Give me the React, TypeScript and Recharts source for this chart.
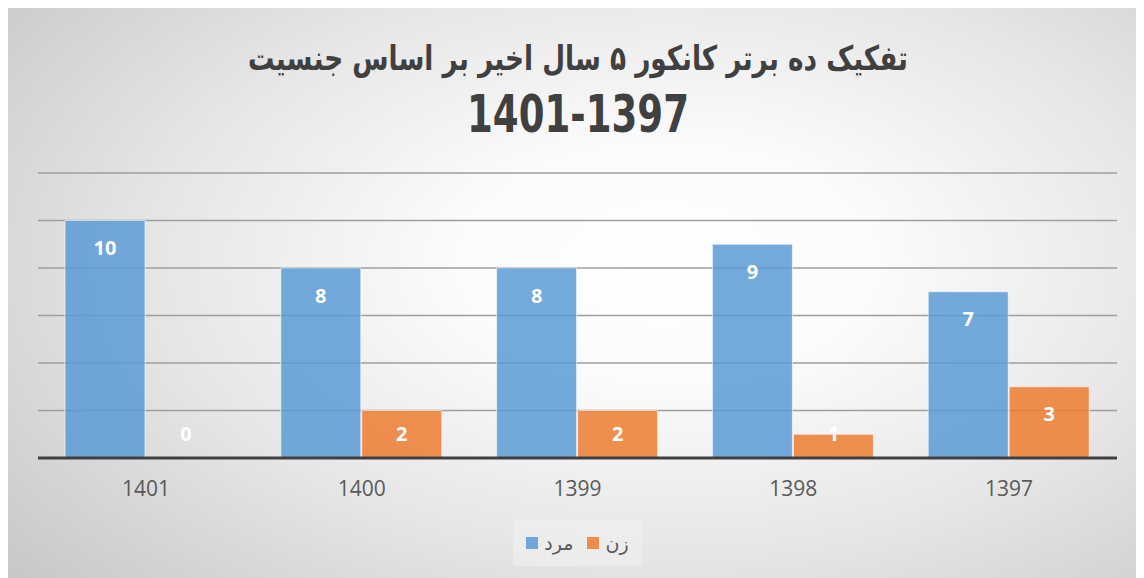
import React from 'react';
import { BarChart, Bar, XAxis, YAxis, CartesianGrid, LabelList } from 'recharts';

const categories = ['1401', '1400', '1399', '1398', '1397'];
const menValues = [10, 8, 8, 9, 7];
const womenValues = [0, 2, 2, 1, 3];
const yTicks = [0, 2, 4, 6, 8, 10, 12];
const seriesNames = ['مرد', 'زن'];
const seriesColors = ['#5b9bd5', '#ed7d31'];
const titleLine1 = 'تفکیک ده برتر کانکور ۵ سال اخیر بر اساس جنسیت';
const titleLine2 = '1401-1397';

const data = categories.map((year, i) => ({ year, men: menValues[i], women: womenValues[i] }));

const BarValueLabel = (props: any) => {
  const { x, y, width, height, value } = props;
  const nx = Number(x), ny = Number(y), nw = Number(width), nh = Number(height);
  const cy = Math.min(ny + 27, ny + nh - 25);
  return (
    <text
      x={nx + nw / 2}
      y={cy}
      textAnchor="middle"
      dominantBaseline="central"
      fill="#ffffff"
      fontWeight="bold"
      fontSize={20}
      fontFamily="'Open Sans', 'DejaVu Sans', sans-serif"
    >
      {value}
    </text>
  );
};

export default function App() {
  return (
    <div
      style={{
        position: 'relative',
        marginTop: -3,
        width: 1136,
        height: 573,
        background:
          'radial-gradient(ellipse 75% 85% at 58% 45%, #ffffff 0%, #fbfbfb 25%, #e6e6e6 60%, #c8c8c8 100%)',
      }}
    >
      <svg width={1136} height={150} style={{ position: 'absolute', left: 0, top: 0 }}>
        <text
          x={570}
          y={65}
          textAnchor="middle"
          direction="rtl"
          fontFamily="'DejaVu Sans Condensed', 'DejaVu Sans', sans-serif"
          fontWeight="bold"
          fontSize={34}
          fill="#404040"
          textLength={660}
          lengthAdjust="spacingAndGlyphs"
        >
          {titleLine1}
        </text>
        <text
          x={570}
          y={127}
          textAnchor="middle"
          fontFamily="'Liberation Sans Narrow', 'DejaVu Sans Condensed', 'Liberation Sans', sans-serif"
          fontWeight="bold"
          fontSize={52}
          fill="#404040"
          textLength={222}
          lengthAdjust="spacingAndGlyphs"
        >
          {titleLine2}
        </text>
      </svg>
      <div style={{ position: 'absolute', left: 0, top: 0 }}>
        <BarChart
          width={1136}
          height={573}
          data={data}
          margin={{ top: 168, right: 27, bottom: 80, left: 30 }}
          barGap={1}
          barSize={80}
        >
          <CartesianGrid vertical={false} stroke="#9e9e9e" strokeWidth={1.5} />
          <YAxis hide domain={[0, 12]} ticks={yTicks} />
          <XAxis
            dataKey="year"
            height={40}
            tickLine={false}
            tickSize={0}
            tickMargin={23}
            axisLine={{ stroke: '#404040', strokeWidth: 3 }}
            tick={{ fill: '#595959', fontSize: 21, fontFamily: "'Open Sans', sans-serif" }}
          />
          <Bar
            dataKey="men"
            name={seriesNames[0]}
            fill={seriesColors[0]}
            fillOpacity={0.85}
            stroke="rgba(255,255,255,0.6)"
            strokeWidth={1}
            minPointSize={0.5}
            isAnimationActive={false}
          >
            <LabelList dataKey="men" content={BarValueLabel} />
          </Bar>
          <Bar
            dataKey="women"
            name={seriesNames[1]}
            fill={seriesColors[1]}
            fillOpacity={0.85}
            stroke="rgba(255,255,255,0.6)"
            strokeWidth={1}
            minPointSize={0.5}
            isAnimationActive={false}
          >
            <LabelList dataKey="women" content={BarValueLabel} />
          </Bar>
        </BarChart>
      </div>
      <div
        style={{
          position: 'absolute',
          left: 505,
          top: 515,
          width: 129,
          height: 46,
          background: 'rgba(240,240,240,0.6)',
          display: 'flex',
          alignItems: 'center',
          justifyContent: 'center',
          direction: 'ltr',
          fontFamily: "'DejaVu Sans', sans-serif",
          fontSize: 19,
          color: '#595959',
        }}
      >
        {seriesNames.map((name, i) => (
          <div key={name} style={{ display: 'flex', alignItems: 'center', marginRight: i === 0 ? 14 : 0 }}>
            <span
              style={{
                display: 'inline-block',
                width: 12,
                height: 12,
                background: seriesColors[i],
                opacity: 0.85,
                marginRight: 6,
              }}
            />
            <span>{name}</span>
          </div>
        ))}
      </div>
    </div>
  );
}
